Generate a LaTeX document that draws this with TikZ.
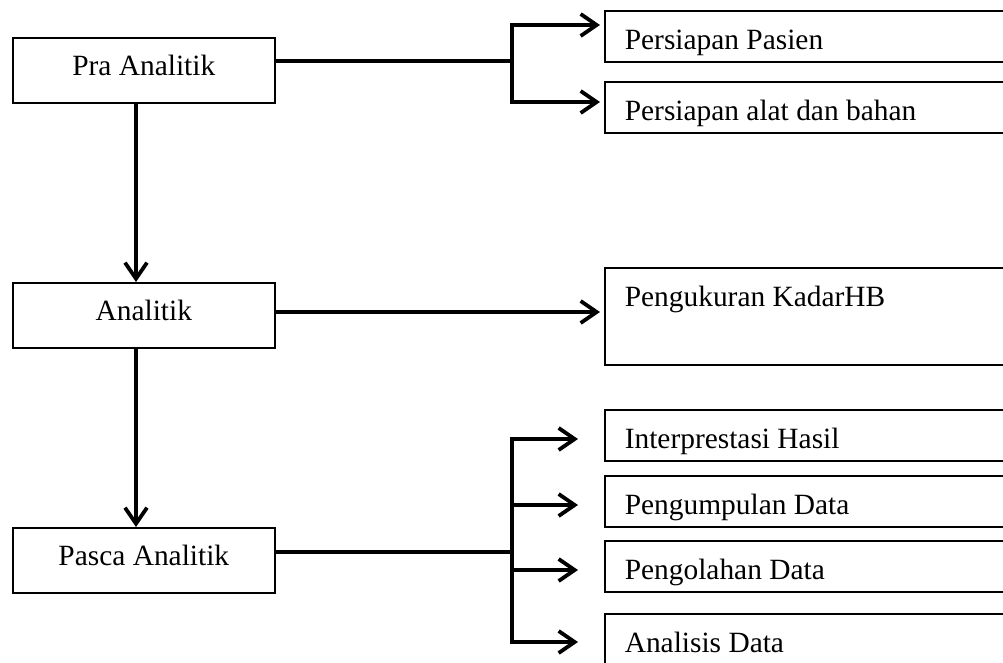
\documentclass[tikz,border=0pt]{standalone}
\usepackage{fontspec}
\setmainfont{Liberation Serif}
\usetikzlibrary{arrows.meta}
\newcommand{\rtext}[1]{\makebox[380pt][l]{#1}}
\begin{document}
\begin{tikzpicture}[x=1pt,y=-1pt,
 every node/.style={font=\fontsize{29.4}{35}\selectfont},
 lbox/.style={draw, line width=1.6pt, minimum width=262pt, inner xsep=0pt, inner ysep=0pt, text height=38pt, text depth=27pt, anchor=north west},
 rbox/.style={draw, line width=1.6pt, inner xsep=20pt, inner ysep=0pt, text height=39pt, text depth=12pt, anchor=north west},
 conn/.style={line width=3.8pt, line cap=rect},
 arr/.style={line width=3.8pt, -{Straight Barb[length=16pt,width=22pt]}},
]
\useasboundingbox (0,0) rectangle (1003,662);
\clip (0,0) rectangle (1003,662);

% left boxes
\node[lbox] (pra) at (12,37) {Pra Analitik};
\node[lbox] (ana) at (12,282) {Analitik};
\node[lbox] (pas) at (12,527) {Pasca Analitik};

% right boxes
\node[rbox] (pp) at (604,10) {\rtext{Persiapan Pasien}};
\node[rbox] (pa) at (604,81) {\rtext{Persiapan alat dan bahan}};
\node[rbox, text depth=58pt] (pk) at (604,267) {\rtext{Pengukuran KadarHB}};
\node[rbox] (ih) at (604,409) {\rtext{Interprestasi Hasil}};
\node[rbox] (pd) at (604,475) {\rtext{Pengumpulan Data}};
\node[rbox] (od) at (604,540) {\rtext{Pengolahan Data}};
\node[rbox] (ad) at (604,613) {\rtext{Analisis Data}};

% vertical arrows
\coordinate (vx) at (136,0);
\draw[arr] (pra.south -| vx) -- (ana.north -| vx);
\draw[arr] (ana.south -| vx) -- (pas.north -| vx);

% Pra Analitik branch
\coordinate (pj) at (512,61);
\coordinate (pt) at (512,25);
\coordinate (pb) at (512,102);
\draw[conn] (pra.east |- pj) -- (pj);
\draw[conn] (pt) -- (pb);
\draw[arr, shorten >=4pt] (pt) -- (pp.west |- pt);
\draw[arr, shorten >=4pt] (pb) -- (pa.west |- pb);

% Analitik arrow
\coordinate (aj) at (0,312);
\draw[arr, shorten >=4pt] (ana.east |- aj) -- (pk.west |- aj);

% Pasca Analitik branch
\coordinate (qj) at (512,552);
\coordinate (q1) at (512,439);
\coordinate (q2) at (512,505);
\coordinate (q3) at (512,570);
\coordinate (q4) at (512,642);
\draw[conn] (pas.east |- qj) -- (qj);
\draw[conn] (q1) -- (q4);
\draw[arr, shorten >=26pt] (q1) -- (ih.west |- q1);
\draw[arr, shorten >=26pt] (q2) -- (pd.west |- q2);
\draw[arr, shorten >=26pt] (q3) -- (od.west |- q3);
\draw[arr, shorten >=26pt] (q4) -- (ad.west |- q4);
\end{tikzpicture}
\end{document}
